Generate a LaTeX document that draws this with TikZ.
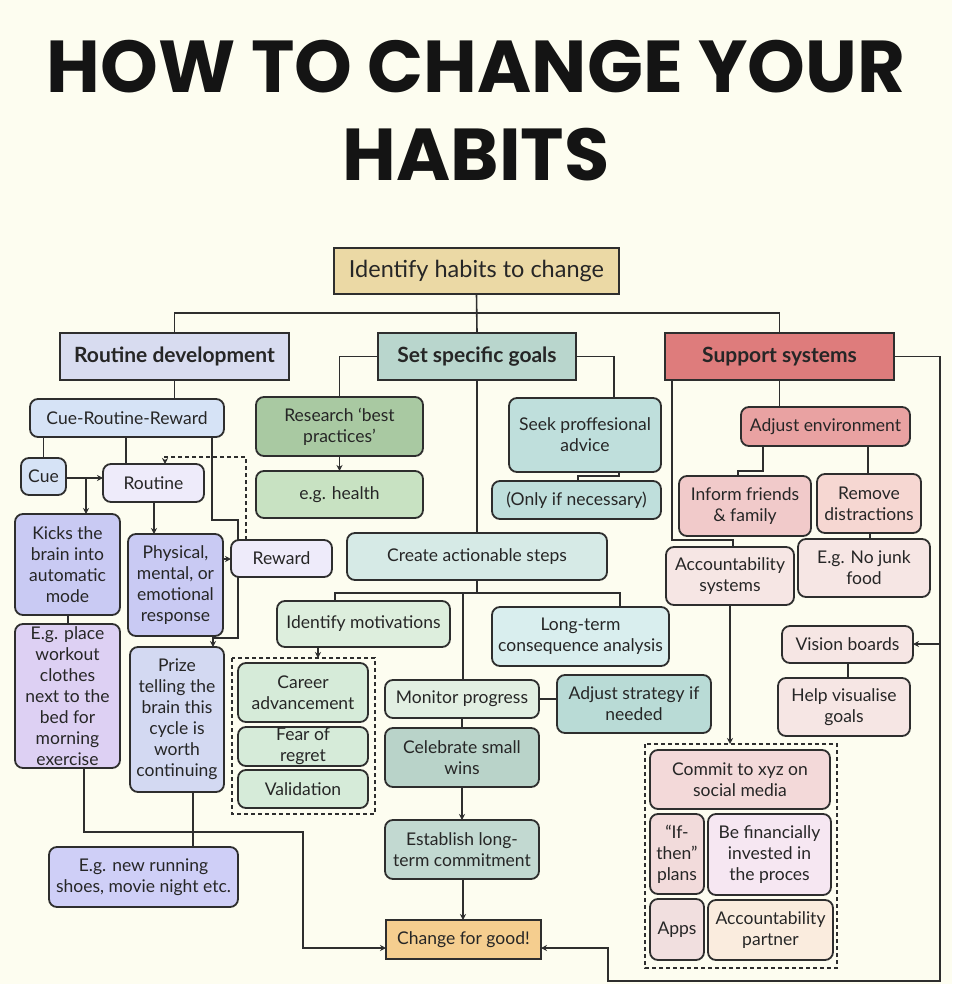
\documentclass[tikz,border=0pt]{standalone}
\usepackage{fontspec}
\setmainfont{Lato}
\newfontfamily\titlefont{Poppins Bold}
\usetikzlibrary{arrows.meta,calc}
\definecolor{bgc}{HTML}{FDFDF0}
\definecolor{lnc}{HTML}{2E2E2E}
\definecolor{cID}{HTML}{EBD9A5}
\definecolor{cRD}{HTML}{D8DCF0}
\definecolor{cSSG}{HTML}{B9D6CD}
\definecolor{cSS}{HTML}{DE7C7C}
\definecolor{cCRR}{HTML}{D6E3F6}
\definecolor{cRout}{HTML}{EEEBFA}
\definecolor{cKick}{HTML}{C9CAF3}
\definecolor{cPlace}{HTML}{DDD0F3}
\definecolor{cPrize}{HTML}{D3D9F2}
\definecolor{cRun}{HTML}{CFCFF7}
\definecolor{cRes}{HTML}{A9C9A2}
\definecolor{cHea}{HTML}{C8E2C2}
\definecolor{cSeek}{HTML}{BFDFDC}
\definecolor{cCre}{HTML}{D6EAE6}
\definecolor{cMot}{HTML}{DDEEDD}
\definecolor{cCar}{HTML}{D6EBD9}
\definecolor{cLT}{HTML}{D9EEEE}
\definecolor{cMon}{HTML}{E2EFE2}
\definecolor{cAdS}{HTML}{B9DBD6}
\definecolor{cCel}{HTML}{B9D3C9}
\definecolor{cEst}{HTML}{C2D9D1}
\definecolor{cChg}{HTML}{F5CE8F}
\definecolor{cAdE}{HTML}{E9A2A2}
\definecolor{cInf}{HTML}{F1CACA}
\definecolor{cRem}{HTML}{F6D7D2}
\definecolor{cPale}{HTML}{F6E6E4}
\definecolor{cCom}{HTML}{F3D9D9}
\definecolor{cIf}{HTML}{F2DBDB}
\definecolor{cFin}{HTML}{F6E7F2}
\definecolor{cApp}{HTML}{F1DFDF}
\definecolor{cPar}{HTML}{FAECDE}
\tikzset{
  base/.style={draw=lnc, line width=1.8pt, inner sep=0pt, outer sep=0pt, align=center,
    font=\fontsize{17.5}{21}\selectfont, text=black!85},
  rbox/.style={base, rounded corners=8pt},
  sbox/.style={base},
  head/.style={base, font=\fontsize{21}{25}\selectfont\bfseries},
  conn/.style={draw=lnc, line width=1.6pt},
  arr/.style={conn, -{Stealth[length=6pt,width=6pt]}},
  grp/.style={draw=lnc, line width=1.2pt, dash pattern=on 4pt off 3pt}
}
\newcommand\bx[7]{%
  \pgfmathsetmacro\cxx{(#3+#5)/2}\pgfmathsetmacro\cyy{(#4+#6)/2}%
  \pgfmathsetmacro\ww{#5-#3}\pgfmathsetmacro\hh{#6-#4}%
  \node[#2, minimum width=\ww pt, minimum height=\hh pt] (#1) at (\cxx,\cyy) {#7};}
\begin{document}
\begin{tikzpicture}[x=1pt,y=-1pt]
\fill[bgc] (0,0) rectangle (952,984);
\useasboundingbox (0,0) rectangle (952,984);
% title
\node[font=\titlefont\fontsize{73.5}{76}\selectfont, text=black!92] (t1) at (476,67) {HOW TO CHANGE YOUR};
\node[font=\titlefont\fontsize{73.5}{76}\selectfont, text=black!92] (t2) at (476,155) {HABITS};
% top
\bx{ID}{sbox,fill=cID,font=\fontsize{23.5}{27}\selectfont}{334}{248}{619}{294}{Identify habits to change}
\bx{RD}{head,fill=cRD}{60}{333}{289}{380}{Routine development}
\bx{SSG}{head,fill=cSSG}{378}{333}{576}{380}{Set specific goals}
\bx{SS}{head,fill=cSS}{665}{333}{894}{380}{Support systems}
% left column
\bx{CRR}{rbox,fill=cCRR}{30}{399}{224}{437}{Cue-Routine-Reward}
\bx{Cue}{rbox,fill=cCRR}{21}{458}{66}{495}{Cue}
\bx{Rout}{rbox,fill=cRout}{103}{464}{204}{502}{Routine}
\bx{Kick}{rbox,fill=cKick}{15}{514}{120}{615}{Kicks the\\brain into\\automatic\\mode}
\bx{Phys}{rbox,fill=cKick}{128}{534}{223}{636}{Physical,\\mental, or\\emotional\\response}
\bx{Rew}{rbox,fill=cRout}{231}{540}{332}{577}{Reward}
\bx{Place}{rbox,fill=cPlace}{15}{624}{120}{768}{E.g. place\\workout\\clothes\\next to the\\bed for\\morning\\exercise}
\bx{Prize}{rbox,fill=cPrize}{130}{647}{224}{792}{Prize\\telling the\\brain this\\cycle is\\worth\\continuing}
\bx{Run}{rbox,fill=cRun}{49}{847}{238}{907}{E.g. new running\\shoes, movie night etc.}
% middle
\bx{Res}{rbox,fill=cRes}{256}{397}{423}{456}{Research `best\\practices'}
\bx{Hea}{rbox,fill=cHea}{256}{471}{423}{518}{e.g. health}
\bx{Seek}{rbox,fill=cSeek}{509}{398}{661}{472}{Seek proffesional\\advice}
\bx{Only}{rbox,fill=cSeek}{492}{481}{661}{519}{(Only if necessary)}
\bx{Cre}{rbox,fill=cCre}{347}{533}{607}{580}{Create actionable steps}
\bx{Mot}{rbox,fill=cMot}{277}{601}{450}{647}{Identify motivations}
\draw[grp] (232,658) rectangle (375,814);
\coordinate (G1) at (303,658);
\bx{Car}{rbox,fill=cCar}{238}{663}{368}{722}{Career\\advancement}
\bx{Fear}{rbox,fill=cCar}{238}{727}{368}{766}{Fear of\\regret}
\bx{Val}{rbox,fill=cCar}{238}{770}{368}{808}{Validation}
\bx{LT}{rbox,fill=cLT}{492}{607}{669}{666}{Long-term\\consequence analysis}
\bx{Mon}{rbox,fill=cMon}{385}{680}{539}{718}{Monitor progress}
\bx{AdS}{rbox,fill=cAdS}{557}{675}{711}{733}{Adjust strategy if\\needed}
\bx{Cel}{rbox,fill=cCel}{385}{728}{539}{787}{Celebrate small\\wins}
\bx{Est}{rbox,fill=cEst}{385}{820}{539}{879}{Establish long-\\term commitment}
\bx{Chg}{sbox,fill=cChg}{386}{920}{541}{959}{Change for good!}
% right column
\bx{AdE}{rbox,fill=cAdE}{741}{407}{910}{446}{Adjust environment}
\bx{Inf}{rbox,fill=cInf}{679}{476}{811}{536}{Inform friends\\\& family}
\bx{Rem}{rbox,fill=cRem}{817}{474}{921}{533}{Remove\\distractions}
\bx{Junk}{rbox,fill=cPale}{798}{539}{930}{597}{E.g. No junk\\food}
\bx{Acc}{rbox,fill=cPale}{666}{547}{794}{605}{Accountability\\systems}
\bx{Vis}{rbox,fill=cPale}{782}{626}{913}{663}{Vision boards}
\bx{Help}{rbox,fill=cPale}{778}{678}{910}{736}{Help visualise\\goals}
\draw[grp] (645,744) rectangle (837,968);
\coordinate (G2) at (741,744);
\bx{Com}{rbox,fill=cCom}{650}{750}{830}{809}{Commit to xyz on\\social media}
\bx{If}{rbox,fill=cIf}{650}{814}{704}{894}{``If-\\then''\\plans}
\bx{Fin}{rbox,fill=cFin}{708}{814}{831}{895}{Be financially\\invested in\\the proces}
\bx{App}{rbox,fill=cApp}{650}{899}{704}{960}{Apps}
\bx{Par}{rbox,fill=cPar}{708}{900}{833}{960}{Accountability\\partner}
% connectors top
\draw[conn] (ID.south) -- (SSG.north);
\draw[conn] (RD.north) -- (RD.north |- 0,313) -- (SS.north |- 0,313) -- (SS.north);
\draw[conn] (RD.south) -- (RD.south |- CRR.north);
\draw[conn] (SSG.west) -| (Res.north);
\draw[conn] (SSG.east) -| (Seek.north -| 614,0);
\draw[arr] (Res.south) -- (Hea.north);
\draw[conn] (Seek.south -| 619,0) |- (578,476) -- (Only.north -| 578,0);
\draw[conn] (SSG.south) -- (SSG.south |- Cre.north);
\draw[conn] (Cre.south) -- (Cre.south |- 0,593);
\draw[conn] (Mot.north -| 335,0) -- (335,593) -- (620,593) -- (LT.north -| 620,0);
\draw[conn] (463,593) -- (Mon.north -| 463,0);
\draw[arr] (Mot.south -| 318,0) -- (G1 -| 318,0);
\draw[conn] (Mon.east) -- (AdS.west |- Mon.east);
\draw[conn] (Mon.south) -- (Cel.north);
\draw[arr] (Cel.south) -- (Est.north);
\draw[arr] (Est.south -| 463,0) -- (Chg.north -| 463,0);
% right connectors
\draw[conn] (SS.south) -- (SS.south |- AdE.north);
\draw[conn] (SS.south -| 672,0) -- (672,540) -- (733,540) -- (Acc.north -| 733,0);
\draw[conn] (AdE.south -| 763,0) -- (763,471) -- (738,471) -- (Inf.north -| 738,0);
\draw[conn] (AdE.south -| 868,0) -- (Rem.north -| 868,0);
\draw[conn] (Rem.south -| 870,0) -- (Junk.north -| 870,0);
\draw[arr] (Acc.south -| 730,0) -- (G2 -| 730,0);
\draw[arr] (SS.east) -- (940,356.5) -- (940,981) -- (608,981) -- (608,948) -- (Chg.east |- 0,948);
\draw[arr] (940,644) -- (Vis.east |- 0,644);
\draw[conn] (Vis.south -| 848,0) -- (Help.north -| 848,0);
% left connectors
\draw[conn] (Cue.north |- CRR.south) -- (Cue.north);
\draw[conn] (CRR.south -| 126,0) -- (Rout.north -| 126,0);
\draw[conn] (CRR.south -| 212,0) -- (212,520) -- (238,520) -- (Rew.north -| 238,0);
\draw[arr] (Rew.south -| 238,0) -- (238,638) -- (213,638) -- (Prize.north -| 213,0);
\draw[arr, dash pattern=on 4pt off 3pt, line width=1.3pt] (Rew.north -| 246,0) -- (246,457) -- (165,457) -- (Rout.north -| 165,0);
\draw[arr] (Cue.east |- 0,478) -- (Rout.west |- 0,478);
\draw[arr] (86,478) -- (Kick.north -| 86,0);
\draw[arr] (Rout.south -| 154,0) -- (Phys.north -| 154,0);
\draw[arr] (Phys.east |- 0,559) -- (Rew.west |- 0,559);
\draw[conn] (Kick.south -| 68,0) -- (Place.north -| 68,0);
\draw[arr] (Place.south -| 84,0) -- (84,832) -- (303,832) -- (303,948) -- (Chg.west |- 0,948);
\draw[conn] (Prize.south -| 193,0) -- (Run.north -| 193,0);
\end{tikzpicture}
\end{document}
